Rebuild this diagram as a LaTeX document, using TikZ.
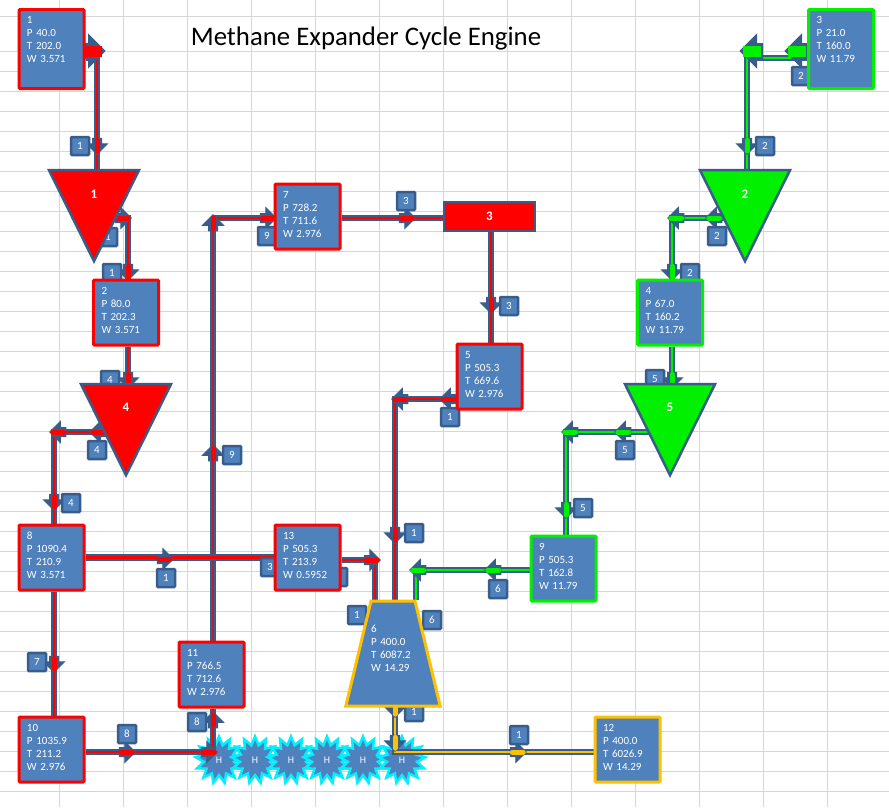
\documentclass[tikz,border=0pt]{standalone}
\usepackage{fontspec}
\setmainfont{Carlito}
\definecolor{ecGrid}{HTML}{D6D6D6}
\definecolor{ecBox}{HTML}{4F81BD}
\definecolor{ecPipe}{HTML}{385D8A}
\definecolor{ecRed}{HTML}{FF0000}
\definecolor{ecGreen}{HTML}{00F000}
\definecolor{ecYellow}{HTML}{FFC000}
\definecolor{ecCyan}{HTML}{00F0FF}
\usetikzlibrary{calc,shapes.geometric,shapes.arrows}
\pgfdeclarelayer{gridlayer}
\pgfdeclarelayer{pipelayer}
\pgfdeclarelayer{taglayer}
\pgfsetlayers{gridlayer,pipelayer,taglayer,main}

\begin{document}
\begin{tikzpicture}[x=1pt, y=-1pt,
  state/.style={rectangle, rounded corners=1pt, fill=ecBox, line width=3pt, text=white,
    minimum width=65pt, minimum height=65pt, inner sep=0pt, text width=49pt,
    align=left, font=\fontsize{11}{13}\selectfont, execute at end node={\endgraf\vspace{4pt}}},
  tall/.style={minimum height=79pt, execute at end node={\vspace{16pt}}},
  tag/.style={rectangle, rounded corners=1pt, fill=ecBox, draw=ecPipe, line width=2.5pt,
    text=white, minimum size=18pt, inner sep=0pt, font=\fontsize{11}{12}\selectfont},
  machine/.style={isosceles triangle, isosceles triangle apex angle=52.7,
    isosceles triangle stretches=true, shape border rotate=-90, draw=ecPipe,
    line width=2.5pt, minimum width=90pt, minimum height=91pt, inner sep=0pt, anchor=apex},
  machlbl/.style={text=white, font=\fontsize{13}{14}\selectfont\bfseries},
  heat/.style={star, star points=13, star point ratio=1.55, fill=ecBox, draw=ecCyan,
    line width=2.5pt, minimum size=47pt, inner sep=0pt},
  heatlbl/.style={text=white, font=\fontsize{10}{11}\selectfont},
  pipeR/.style={draw=ecPipe, line width=2pt, double=ecRed, double distance=2.8pt},
  pipeD/.style={draw=ecPipe, line width=2.4pt, double=ecRed!60!ecPipe, double distance=2pt},
  pipeG/.style={draw=ecPipe, line width=2pt, double=ecGreen, double distance=2.8pt},
  pipeY/.style={draw=ecPipe, line width=2pt, double=ecYellow, double distance=2.8pt},
  flowmark/.style={single arrow, fill=ecPipe, draw=ecPipe, line width=1pt, inner sep=4pt,
    minimum height=16pt, single arrow head extend=6pt, single arrow head indent=0pt},
  bigmark/.style={single arrow, fill=ecPipe, draw=ecPipe, line width=1pt, inner sep=7pt,
    minimum height=20pt, single arrow head extend=9pt, single arrow head indent=0pt}
]
  \useasboundingbox (0,0) rectangle (889,807);
  % Sheet grid
  \begin{pgfonlayer}{gridlayer}
    \fill[white] (0,0) rectangle (889,807);
    \foreach \x in {59,123,...,827} \draw[ecGrid, line width=1pt] (\x,0) -- (\x,807);
    \foreach \y in {16,51,71,91,...,791} \draw[ecGrid, line width=1pt] (0,\y) -- (889,\y);
  \end{pgfonlayer}
  % Title
  \node[font=\fontsize{26.8}{30}\selectfont] (title) at (366,38) {Methane Expander Cycle Engine};
  % Stream boxes
  \node[state, tall, draw=ecRed] (s1) at (51.5,49) {1\\P~40.0\\T~202.0\\W~3.571};
  \node[state, draw=ecRed] (s2) at (126,312.5) {2\\P~80.0\\T~202.3\\W~3.571};
  \node[state, tall, draw=ecGreen] (s3) at (841,49) {3\\P~21.0\\T~160.0\\W~11.79};
  \node[state, draw=ecGreen] (s4) at (670,312.5) {4\\P~67.0\\T~160.2\\W~11.79};
  \node[state, draw=ecRed] (s5) at (489.5,376.5) {5\\P~505.3\\T~669.6\\W~2.976};
  \node[state, draw=ecRed] (s7) at (307.5,216.5) {7\\P~728.2\\T~711.6\\W~2.976};
  \node[state, draw=ecRed] (s8) at (51.5,557.5) {8\\P~1090.4\\T~210.9\\W~3.571};
  \node[state, draw=ecGreen] (s9) at (563.5,568.5) {9\\P~505.3\\T~162.8\\W~11.79};
  \node[state, draw=ecRed] (s10) at (51.5,749.5) {10\\P~1035.9\\T~211.2\\W~2.976};
  \node[state, draw=ecRed] (s11) at (211.5,674.5) {11\\P~766.5\\T~712.6\\W~2.976};
  \node[state, draw=ecYellow] (s12) at (627.5,749.5) {12\\P~400.0\\T~6026.9\\W~14.29};
  \node[state, draw=ecRed] (s13) at (307.5,557.5) {13\\P~505.3\\T~213.9\\W~0.5952};
  % Machines
  \node[machine, fill=ecRed] (t1) at (94,264) {};
  \node[machine, fill=ecGreen] (t2) at (745,264) {};
  \node[machine, fill=ecRed] (t4) at (126,478) {};
  \node[machine, fill=ecGreen] (t5) at (670,478) {};
  \node[machlbl] (t1L) at (94,194) {1};
  \node[machlbl] (t2L) at (745,194) {2};
  \node[machlbl] (t4L) at (126,407) {4};
  \node[machlbl] (t5L) at (670,407) {5};
  \node[rectangle, fill=ecRed, draw=ecPipe, line width=2.5pt, minimum width=91pt,
    minimum height=29pt, inner sep=0pt, machlbl] (r3) at (489.5,216.5) {3};
  \node[trapezium, trapezium left angle=66, trapezium right angle=66,
    trapezium stretches=true, fill=ecBox, draw=ecYellow, line width=3pt,
    minimum width=89pt, minimum height=105pt, inner sep=0pt, text width=44pt,
    align=left, text=white, font=\fontsize{11}{13}\selectfont,
    execute at end node={\endgraf\vspace{10pt}}] (c6) at (393,653.5)
    {6\\P~400.0\\T~6087.2\\W~14.29};
  % Pipes and their flow marks
  \begin{pgfonlayer}{pipelayer}
    \foreach \nm/\x in {h1/219,h2/255,h3/291,h4/327,h5/363,h6/402} {
      \node[heat] (\nm) at (\x,760) {};
      \node[heatlbl] (\nm L) at (\x,760) {H};
    }
    \coordinate (j1) at (97,58);
    \coordinate (j2) at (128,218);
    \coordinate (j3) at (128,360);
    \coordinate (j4) at (54,432);
    \coordinate (j5) at (54,650);
    \coordinate (j6) at (213,752);
    \coordinate (j7) at (213,218);
    \coordinate (j8) at (491,280);
    \coordinate (j9) at (395,399);
    \coordinate (j10) at (375,560);
    \coordinate (j11) at (747,58);
    \coordinate (j12) at (672,218);
    \coordinate (j13) at (672,360);
    \coordinate (j14) at (566,432);
    \coordinate (j15) at (416,570);
    \coordinate (j16) at (395,752);
    \draw[pipeR] (s1.east |- j1) -- (j1) -- (j1 |- t1.lower side);
    \draw[pipeR] (t1.center |- j2) -- (j2) -- (j2 |- s2.north);
    \draw[pipeR] (j3 |- s2.south) -- (j3 |- t4.lower side);
    \draw[pipeR] (t4.center |- j4) -- (j4) -- (j4 |- s8.north);
    \draw[pipeR] (j5 |- s8.south) -- (j5 |- s10.north);
    \draw[pipeD] (j6 |- s11.north) -- (j7);
    \draw[pipeR] (j7) -- (s7.west |- j7);
    \draw[pipeR] (s8.east) -- (s13.west);
    \draw[pipeR] (s10.east |- j6) -- (j6);
    \draw[pipeR] (j6) -- (j6 |- s11.south);
    \draw[pipeR] (s7.east |- j7) -- (r3.west |- j7);
    \draw[pipeR] (j8 |- r3.south) -- (j8 |- s5.north);
    \draw[pipeR] (s5.west |- j9) -- (j9) -- (j9 |- c6.north);
    \draw[pipeR] (s13.east |- j10) -- (j10) -- (j10 |- c6.north);
    \draw[pipeG] (s3.west |- j11) -- (j11) -- (j11 |- t2.lower side);
    \draw[pipeG] (t2.center |- j12) -- (j12) -- (j12 |- s4.north);
    \draw[pipeG] (j13 |- s4.south) -- (j13 |- t5.lower side);
    \draw[pipeG] (t5.center |- j14) -- (j14) -- (j14 |- s9.north);
    \draw[pipeG] (s9.west |- j15) -- (j15) -- (j15 |- c6.north);
    \draw[pipeY] (j16 |- c6.south) -- (j16) -- (s12.west |- j16);
    \foreach \nm/\x/\y/\a/\c in {
      m2/97/144/-90/ecRed, m3/121/218/0/ecRed,
      m4/128/270/-90/ecRed, m5/128/378/-90/ecRed, m6/100/432/180/ecRed,
      m7/60/432/180/ecRed, m8/54/500/-90/ecRed, m9/54/662/-90/ecRed,
      m10/163/559/0/ecRed, m11/125/752/0/ecRed, m12/207/752/0/ecRed,
      m13/213/722/90/ecRed, m14/213/455/90/ecRed, m15/213/225/90/ecRed,
      m16/266/218/0/ecRed, m17/405/218/0/ecRed, m18/491/303/-90/ecRed,
      m19/402/399/180/ecRed, m20/450/399/180/ecRed, m21/395/533/-90/ecRed,
      m22/370/560/0/ecRed,
      m25/747/144/-90/ecGreen,
      m26/716/218/180/ecGreen, m27/678/218/180/ecGreen, m28/672/270/-90/ecGreen,
      m29/672/378/-90/ecGreen, m30/625/432/180/ecGreen, m31/572/432/180/ecGreen,
      m32/566/508/-90/ecGreen, m33/495/570/180/ecGreen, m34/420/570/180/ecGreen,
      m35/395/707/-90/ecYellow, m36/395/741/-90/ecYellow, m37/516/752/0/ecYellow} {
      \node[flowmark, rotate=\a] (\nm) at (\x,\y) {};
      \draw[\c, line width=5pt, line cap=round] ($(\nm.tail)!.15!(\nm.tip)$) -- ($(\nm.tail)!.78!(\nm.tip)$);
    }
    \foreach \nm/\x/\y/\a/\c in {m1/90/51/0/ecRed, m23/800/51/180/ecGreen, m24/755/51/180/ecGreen} {
      \node[bigmark, rotate=\a] (\nm) at (\x,\y) {};
      \draw[\c, line width=11pt] ($(\nm.tail)!.1!(\nm.tip)$) -- ($(\nm.tail)!.85!(\nm.tip)$);
    }
  \end{pgfonlayer}
  % Stream tags
  \begin{pgfonlayer}{taglayer}
    \foreach \nm/\x/\y/\t in {
      k1/80/146/1, k2/108/237/1, k3/112/273/1, k4/267/236/9, k5/406/201/3, k6/509/306/3,
      k7/450/417/1, k8/110/380/4, k9/97/450/4, k10/71/503/4, k11/232/455/9, k12/166/578/1,
      k13/270/567/3, k14/338/577/{}, k15/414/533/1, k16/357/615/1, k17/432/620/6, k18/498/589/6,
      k19/583/508/5, k20/625/450/5, k21/655/379/5, k22/765/146/2, k23/717/236/2, k24/690/273/2,
      k25/801/76/2, k26/37/662/7, k27/127/734/8, k28/197/722/8, k29/414/712/1, k30/519/735/1} {
      \node[tag] (\nm) at (\x,\y) {\t};
    }
  \end{pgfonlayer}
\end{tikzpicture}
\end{document}
